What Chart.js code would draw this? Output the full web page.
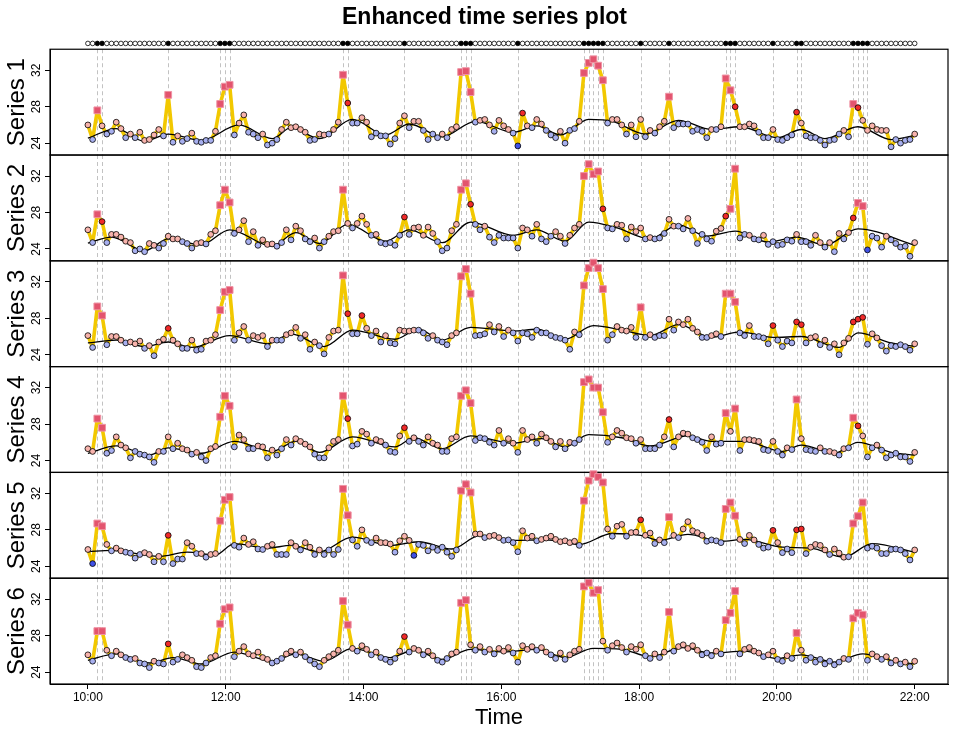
<!DOCTYPE html>
<html>
<head>
<meta charset="utf-8">
<title>Enhanced time series plot</title>
<script src="https://cdn.jsdelivr.net/npm/chart.js@4.4.1/dist/chart.umd.min.js"></script>
<style>
  html, body { margin: 0; padding: 0; background: #fff; }
  #wrap { width: 969px; height: 745px; }
</style>
</head>
<body>
<div id="wrap"><canvas id="chart" width="969" height="745"></canvas></div>
<script>
// TIME AXIS - 176 readings from 10:00 to 22:00 (minutes after midnight)
const START_MIN = 600;
const END_MIN = 1320;
const N_POINTS = 176;
const xTickValues = [600, 720, 840, 960, 1080, 1200, 1320];
const xTickLabels = ['10:00', '12:00', '14:00', '16:00', '18:00', '20:00', '22:00'];
const yTickValues = [24, 28, 32];
const seriesNames = ['Series 1', 'Series 2', 'Series 3', 'Series 4', 'Series 5', 'Series 6'];

// Reading indices flagged as events (dashed lines + filled dots in the top strip)
const eventIdx = [2, 3, 17, 28, 29, 30, 54, 55, 67, 79, 80, 81, 91, 105, 106, 107, 108, 109,
  117, 123, 135, 136, 137, 145, 150, 151, 162, 163, 164, 165];

// SERIES VALUES
const series1 = [
  26.0, 24.4, 27.6, 25.9, 25.0, 25.3, 26.3, 25.6, 24.6, 25.0,
  24.6, 25.2, 24.3, 24.4, 24.9, 25.5, 24.8, 29.3, 24.1, 24.8,
  24.2, 24.5, 25.1, 24.2, 24.1, 24.3, 24.3, 25.3, 28.3, 30.2,
  30.4, 24.9, 26.2, 27.1, 25.2, 25.0, 24.6, 25.0, 23.8, 24.0,
  24.4, 25.5, 26.3, 25.7, 25.8, 25.5, 25.2, 24.3, 24.4, 25.0,
  24.9, 25.0, 25.5, 26.3, 31.5, 28.4, 26.2, 26.2, 26.8, 26.3,
  24.7, 25.1, 24.8, 24.8, 23.9, 24.5, 26.2, 27.0, 25.7, 26.4,
  26.4, 25.4, 24.4, 25.0, 24.6, 25.0, 24.6, 25.5, 25.8, 31.8,
  31.9, 29.6, 26.3, 26.5, 26.6, 26.0, 25.3, 26.5, 25.9, 25.5,
  25.1, 23.7, 27.3, 25.9, 25.7, 26.6, 26.1, 25.4, 24.9, 24.6,
  25.3, 24.0, 25.4, 25.6, 26.4, 31.7, 32.8, 33.2, 32.5, 30.9,
  26.2, 26.6, 26.6, 26.0, 25.0, 26.0, 24.7, 26.6, 24.7, 25.4,
  25.1, 25.8, 26.4, 29.1, 25.7, 26.1, 26.1, 26.1, 25.3, 25.5,
  25.3, 24.6, 25.5, 25.5, 25.8, 31.1, 29.8, 28.0, 25.8, 25.8,
  26.1, 25.9, 25.2, 24.6, 24.6, 25.5, 24.4, 24.3, 24.6, 24.9,
  27.4, 26.2, 24.8, 24.6, 24.6, 24.3, 23.8, 24.3, 24.4, 25.0,
  25.4, 24.7, 28.3, 27.9, 26.5, 25.4, 25.9, 25.5, 25.4, 25.4,
  23.6, 24.4, 24.0, 24.3, 24.4, 25.0
];
const series2 = [
  26.1, 24.7, 27.8, 27.0, 24.7, 25.6, 25.6, 25.3, 24.85, 24.7,
  23.8, 24.0, 23.7, 24.6, 24.4, 24.1, 24.6, 25.4, 25.1, 25.1,
  24.8, 24.6, 24.1, 24.6, 24.7, 24.55, 25.6, 26.0, 28.8, 30.5,
  29.1, 25.7, 26.1, 27.1, 24.8, 25.9, 24.4, 25.0, 24.5, 24.55,
  24.3, 24.7, 26.1, 25.0, 26.5, 26.0, 25.1, 24.8, 25.2, 24.1,
  24.8, 25.4, 25.9, 26.0, 30.5, 26.8, 26.3, 26.8, 27.6, 26.7,
  25.5, 25.6, 24.7, 24.55, 24.7, 24.4, 25.5, 27.5, 25.6, 26.3,
  26.4, 25.5, 26.4, 25.7, 24.8, 23.8, 24.1, 26.0, 26.7, 30.5,
  31.2, 28.9, 26.7, 26.1, 26.5, 25.3, 24.7, 25.5, 25.2, 25.2,
  25.2, 24.1, 26.3, 26.1, 25.4, 26.7, 25.1, 24.8, 25.4, 25.9,
  25.4, 24.6, 25.5, 26.3, 26.7, 32.0, 33.3, 32.2, 32.5, 28.4,
  26.3, 26.2, 26.7, 26.6, 25.1, 26.4, 25.9, 26.3, 25.1, 25.25,
  25.1, 25.2, 25.7, 27.25, 26.5, 26.5, 26.2, 27.35, 26.0, 24.6,
  25.6, 25.1, 24.85, 25.95, 26.25, 27.6, 28.4, 32.8, 25.2, 25.6,
  25.5, 25.1, 25.0, 25.5, 24.5, 24.8, 24.4, 24.5, 25.0, 24.85,
  25.6, 24.8, 24.8, 24.4, 25.5, 24.7, 24.2, 24.7, 23.7, 25.7,
  25.1, 25.8, 27.4, 29.05, 28.7, 23.9, 25.4, 25.2, 24.2, 25.4,
  25.0, 24.6, 24.2, 24.3, 23.2, 24.7
];
const series3 = [
  26.1, 24.8, 29.3, 28.3, 25.1, 26.0, 26.0, 25.6, 25.3, 25.4,
  25.2, 25.5, 24.7, 25.0, 23.9, 25.4, 25.7, 26.9, 25.6, 25.2,
  24.7, 24.7, 25.6, 24.5, 24.6, 25.5, 25.6, 26.2, 28.9, 30.9,
  31.1, 25.6, 26.4, 27.1, 25.6, 26.1, 25.9, 26.1, 24.9, 25.6,
  25.6, 25.6, 26.2, 26.4, 27.0, 25.8, 26.2, 24.6, 25.4, 25.0,
  24.1, 25.9, 26.6, 26.7, 32.7, 28.5, 26.3, 26.3, 28.3, 26.9,
  26.1, 26.6, 25.4, 26.1, 25.3, 25.2, 26.7, 26.6, 26.6, 26.7,
  26.7, 26.4, 25.8, 26.1, 25.6, 25.4, 25.1, 26.1, 26.4, 32.6,
  33.4, 30.7, 26.1, 26.15, 26.3, 27.3, 26.5, 27.1, 26.0, 26.7,
  26.4, 25.5, 26.4, 26.3, 25.9, 26.7, 26.4, 26.4, 26.1, 25.9,
  25.8, 25.6, 24.6, 26.5, 26.2, 31.6, 33.5, 34.1, 33.5, 31.2,
  25.6, 26.2, 27.1, 26.7, 26.6, 27.0, 25.9, 29.2, 25.9, 26.2,
  25.9, 26.1, 26.1, 27.9, 26.7, 27.6, 27.3, 27.9, 26.9, 26.5,
  25.9, 25.9, 26.1, 26.3, 26.0, 30.7, 30.7, 29.8, 26.4, 26.1,
  27.2, 26.0, 26.0, 25.85, 25.2, 27.2, 25.6, 24.9, 25.5, 25.3,
  27.6, 27.3, 25.3, 25.85, 26.0, 25.1, 25.6, 24.8, 25.2, 24.0,
  25.3, 25.8, 27.6, 27.9, 28.1, 25.15, 26.3, 25.85, 25.0, 24.4,
  25.0, 24.9, 25.1, 24.9, 24.5, 25.2
];
const series4 = [
  25.3, 25.0, 28.6, 27.6, 24.8, 25.1, 26.6, 25.7, 25.4, 24.3,
  25.0, 24.7, 24.6, 24.4, 23.8, 25.0, 25.0, 26.6, 25.3, 25.9,
  25.3, 25.15, 24.7, 24.9, 24.4, 24.0, 25.3, 25.55, 28.8, 31.1,
  30.0, 25.5, 26.8, 26.3, 25.3, 25.3, 25.6, 25.5, 24.3, 25.15,
  24.6, 25.3, 26.3, 25.7, 26.4, 26.1, 25.8, 25.5, 24.7, 24.3,
  24.3, 25.4, 26.1, 26.3, 31.1, 28.6, 25.6, 25.8, 27.2, 26.9,
  25.9, 26.3, 26.1, 25.7, 25.0, 24.9, 26.7, 27.6, 26.1, 26.5,
  26.1, 25.7, 26.6, 25.9, 25.7, 25.0, 25.0, 26.4, 26.6, 31.1,
  31.7, 30.3, 26.2, 26.5, 26.4, 26.0, 25.7, 27.3, 25.9, 26.4,
  25.9, 24.9, 27.3, 26.3, 26.6, 25.9, 26.9, 26.5, 26.1, 25.5,
  26.1, 25.3, 26.0, 25.9, 26.3, 32.6, 32.9, 32.0, 32.0, 29.3,
  26.0, 26.6, 27.3, 27.0, 26.5, 26.4, 25.9, 26.3, 25.3, 25.3,
  25.3, 25.7, 26.6, 28.5, 25.5, 26.6, 27.0, 26.9, 26.5, 26.3,
  26.0, 25.1, 26.6, 25.8, 25.9, 29.2, 27.2, 29.7, 25.1, 26.3,
  26.3, 26.2, 26.1, 25.2, 25.1, 26.1, 25.0, 24.6, 25.4, 25.2,
  30.7, 26.4, 25.2, 25.1, 25.0, 25.4, 25.0, 25.0, 24.85, 24.6,
  25.3, 25.4, 28.7, 27.8, 26.7, 24.4, 25.4, 25.7, 25.15, 24.3,
  24.6, 24.8, 24.4, 24.4, 23.9, 24.9
];
const series5 = [
  25.85, 24.3, 28.7, 28.4, 26.4, 25.7, 26.0, 25.7, 25.55, 25.45,
  24.9, 25.3, 25.5, 25.3, 24.5, 25.1, 24.5, 27.4, 24.3, 24.8,
  24.8, 26.6, 26.2, 25.4, 25.4, 25.0, 25.3, 25.4, 29.0, 31.3,
  31.6, 26.3, 26.1, 27.1, 26.4, 26.7, 25.9, 25.85, 26.2, 26.4,
  25.3, 25.3, 25.3, 26.6, 26.2, 25.8, 26.6, 26.1, 25.3, 25.8,
  25.3, 25.8, 25.3, 25.85, 32.5, 29.6, 26.9, 26.2, 28.0, 26.85,
  26.6, 27.1, 26.6, 26.6, 26.45, 25.55, 26.8, 27.3, 26.85, 25.2,
  26.4, 26.3, 25.7, 26.1, 25.75, 26.1, 25.55, 25.1, 25.8, 32.3,
  33.0, 32.1, 27.55, 27.55, 27.15, 27.3, 27.4, 27.15, 26.85, 26.9,
  26.6, 25.6, 27.9, 27.1, 27.3, 26.8, 26.95, 27.1, 27.3, 26.95,
  26.7, 26.8, 26.6, 26.75, 26.3, 31.2, 33.4, 34.1, 33.8, 33.2,
  28.1, 27.3, 28.4, 28.6, 27.3, 27.7, 27.75, 29.1, 27.4, 27.65,
  26.5, 26.9, 26.6, 29.4, 27.4, 27.15, 28.1, 28.9, 27.9, 27.7,
  27.4, 26.75, 26.9, 26.8, 26.6, 30.3, 31.0, 29.55, 26.95, 26.5,
  27.4, 26.9, 26.4, 26.0, 26.1, 27.95, 26.6, 25.5, 25.9, 25.5,
  28.0, 28.1, 25.4, 26.1, 26.4, 26.3, 25.8, 25.3, 25.9, 25.45,
  25.0, 25.05, 28.7, 29.5, 31.0, 26.0, 26.2, 26.0, 25.4, 25.4,
  25.85, 25.9, 25.8, 25.4, 24.7, 25.8
];
const series6 = [
  25.9, 25.2, 28.5, 28.5, 26.4, 25.8, 26.3, 25.9, 25.6, 25.4,
  25.5, 25.0, 24.9, 24.5, 25.2, 25.0, 24.9, 27.1, 25.1, 25.4,
  25.9, 25.6, 25.3, 24.6, 24.5, 25.0, 25.6, 25.8, 29.3, 30.9,
  31.1, 25.7, 26.3, 26.8, 26.0, 25.8, 26.2, 25.6, 25.4, 25.0,
  25.2, 25.5, 26.0, 26.3, 25.9, 26.2, 25.7, 25.3, 24.9, 24.6,
  25.3, 25.7, 26.0, 26.4, 31.8, 29.2, 26.6, 26.3, 26.9, 26.5,
  25.9, 26.2, 25.6, 25.4, 25.1, 25.5, 26.3, 27.9, 26.2, 26.6,
  26.4, 25.9, 26.3, 25.8, 25.3, 25.1, 25.5, 26.0, 26.2, 31.6,
  31.9, 27.0, 26.4, 26.8, 26.2, 26.5, 26.0, 26.6, 26.3, 26.7,
  26.1, 25.1, 26.9, 26.5, 26.8, 26.4, 26.7, 26.2, 25.9, 25.5,
  26.1, 25.4, 25.9, 26.3, 26.5, 33.4, 33.8, 32.7, 33.0, 27.4,
  26.4, 26.9, 27.2, 26.7, 26.2, 26.8, 26.5, 27.0, 25.8, 25.5,
  26.0, 25.6, 26.2, 30.6, 26.3, 26.8, 27.0, 26.6, 26.9, 26.4,
  25.9, 26.1, 25.8, 26.3, 26.0, 29.7, 30.5, 32.9, 26.0, 26.5,
  26.7, 26.3, 26.1, 25.7, 25.9, 26.3, 25.4, 25.2, 25.8, 25.5,
  28.3, 26.4, 25.3, 25.6, 25.1, 25.4, 24.9, 25.2, 24.8, 25.1,
  25.5, 25.4, 29.9, 30.5, 30.3, 25.3, 26.0, 25.7, 25.4, 25.7,
  25.0, 25.3, 24.9, 25.1, 24.6, 25.2
];

// SMOOTH TREND - [reading index, value] knots of the black curve
const trend1 = [[0, 24.55], [6, 25.6], [12, 24.2], [17, 25.0], [24, 24.3], [32, 26.0], [39, 24.5], [43, 25.7],
  [49, 24.5], [56, 26.6], [63, 24.9], [68, 26.1], [75, 24.7], [82, 26.4], [90, 25.2], [95, 25.9], [100, 24.9],
  [106, 26.6], [111, 26.4], [118, 25.0], [125, 26.5], [132, 25.5], [138, 25.8], [146, 24.6], [151, 25.5],
  [156, 24.5], [163, 25.8], [170, 24.4], [175, 24.85]];
const trend2 = [[0, 24.65], [5, 25.3], [12, 23.8], [17, 25.1], [24, 24.45], [30, 26.1], [39, 24.3], [44, 25.8],
  [49, 24.6], [55, 26.7], [63, 24.85], [68, 26.1], [75, 24.7], [81, 26.95], [90, 25.5], [95, 26.1], [101, 24.85],
  [106, 26.95], [112, 26.3], [119, 25.1], [125, 26.65], [131, 25.4], [137, 25.95], [144, 24.75], [150, 25.3],
  [156, 24.4], [163, 26.2], [175, 24.4]];
const trend3 = [[0, 25.3], [6, 25.6], [12, 24.9], [17, 25.4], [22, 24.8], [30, 26.1], [38, 25.2], [43, 26.3],
  [50, 24.9], [56, 26.7], [65, 25.7], [70, 26.8], [75, 25.6], [81, 27.0], [90, 26.6], [95, 26.8], [101, 25.7],
  [107, 27.2], [113, 26.7], [119, 26.1], [125, 27.3], [132, 25.9], [138, 26.5], [145, 25.9], [151, 26.0],
  [159, 24.8], [163, 26.4], [170, 25.3], [175, 24.9]];
const trend4 = [[0, 24.8], [6, 25.6], [13, 24.6], [17, 25.4], [24, 24.8], [31, 26.1], [39, 25.0], [44, 26.1],
  [49, 24.9], [56, 26.6], [65, 25.5], [69, 26.5], [75, 25.3], [81, 26.7], [90, 25.9], [96, 26.4], [101, 25.5],
  [106, 26.85], [113, 26.5], [119, 25.6], [127, 26.7], [132, 26.1], [139, 26.1], [147, 25.0], [151, 25.7],
  [158, 24.8], [163, 26.0], [170, 24.9], [175, 24.6]];
const trend5 = [[0, 25.6], [5, 25.75], [15, 25.1], [21, 25.55], [27, 25.25], [31, 26.5], [38, 26.0], [43, 26.3],
  [49, 25.6], [56, 27.2], [64, 26.3], [70, 26.7], [77, 25.9], [83, 27.4], [90, 26.85], [97, 26.9], [104, 26.4],
  [111, 27.6], [117, 27.4], [121, 26.85], [127, 27.5], [134, 26.75], [139, 26.95], [147, 26.1], [153, 26.0],
  [160, 25.0], [166, 26.5], [175, 25.55]];
const trend6 = [[0, 25.3], [6, 26.0], [13, 25.0], [18, 25.6], [24, 24.9], [31, 26.2], [39, 25.2], [44, 26.0],
  [50, 25.2], [56, 26.6], [64, 25.6], [69, 26.4], [75, 25.4], [81, 26.5], [88, 26.2], [95, 26.5], [101, 25.6],
  [107, 26.6], [113, 26.5], [119, 25.7], [126, 26.7], [132, 26.1], [139, 26.3], [146, 25.5], [151, 25.9],
  [158, 25.1], [164, 26.0], [170, 25.3], [175, 24.9]];

// MARKER CLASSES - indices drawn as squares (strong peaks), red dots, dark blue dots
const squares1 = [2, 17, 28, 29, 30, 54, 79, 80, 81, 105, 106, 107, 108, 109, 123, 135, 136, 162];
const squares2 = [2, 28, 29, 30, 54, 79, 80, 105, 106, 107, 108, 136, 137, 163, 164];
const squares3 = [2, 3, 28, 29, 30, 54, 79, 80, 81, 105, 106, 107, 108, 109, 117, 135, 136, 137];
const squares4 = [2, 3, 28, 29, 30, 54, 79, 80, 81, 105, 106, 107, 108, 109, 135, 137, 150, 162];
const squares5 = [2, 3, 28, 29, 30, 54, 55, 79, 80, 81, 105, 106, 107, 108, 109, 123, 135, 136, 137, 162, 163, 164];
const squares6 = [2, 3, 28, 29, 30, 54, 55, 79, 80, 105, 106, 107, 108, 123, 135, 136, 137, 150, 162, 163, 164];
const reds1 = [55, 92, 137, 150, 163];
const reds2 = [3, 67, 81, 109, 135, 162];
const reds3 = [17, 55, 58, 145, 150, 151, 162, 163, 164];
const reds4 = [55, 67, 123, 163];
const reds5 = [17, 117, 145, 150, 151];
const reds6 = [17, 67];
const lows1 = [91];
const lows2 = [165];
const lows3 = [];
const lows4 = [];
const lows5 = [1, 69];
const lows6 = [];

const allSeries = [series1, series2, series3, series4, series5, series6];
const allTrends = [trend1, trend2, trend3, trend4, trend5, trend6];
const allSquares = [squares1, squares2, squares3, squares4, squares5, squares6];
const allReds = [reds1, reds2, reds3, reds4, reds5, reds6];
const allLows = [lows1, lows2, lows3, lows4, lows5, lows6];

// Colours
const COL = {
  yellow: '#F2C800',
  pink: '#F8B3AC',
  blue: '#A7AFEE',
  red: '#F02A2A',
  low: '#3F50E6',
  square: '#E3546E',
  squareEdge: '#EF93A4',
  dash: '#C2C2C2'
};

Chart.defaults.font.family = "'Liberation Sans', Arial, sans-serif";
Chart.defaults.color = '#000';

// Time (minutes) of the i-th reading
function timeAt(i) {
  return START_MIN + i * (END_MIN - START_MIN) / (N_POINTS - 1);
}

// Trend value at reading i, only used to pick pink (above) or blue (below)
function trendAt(knots, i) {
  for (let k = 0; k < knots.length - 1; k++) {
    const [i0, v0] = knots[k];
    const [i1, v1] = knots[k + 1];
    if (i >= i0 && i <= i1) return v0 + (v1 - v0) * (i - i0) / (i1 - i0);
  }
  return knots[knots.length - 1][1];
}

// Marker look for every reading of one series
function markerLooks(s) {
  const values = allSeries[s];
  return values.map((v, i) => {
    if (allSquares[s].includes(i)) return { style: 'rect', r: 4.8, fill: COL.square, edge: COL.squareEdge, w: 1 };
    let fill = v >= trendAt(allTrends[s], i) ? COL.pink : COL.blue;
    if (allReds[s].includes(i)) fill = COL.red;
    if (allLows[s].includes(i)) fill = COL.low;
    return { style: 'circle', r: 2.9, fill: fill, edge: '#000', w: 0.8 };
  });
}

const panelKeys = seriesNames.map((n, s) => 'y' + (s + 1));

// DATASETS
const datasets = [];
allSeries.forEach((values, s) => {
  const axis = panelKeys[s];
  const pts = values.map((v, i) => ({ x: timeAt(i), y: v }));
  const looks = markerLooks(s);

  // thick yellow connecting line
  datasets.push({
    type: 'line', yAxisID: axis, order: 2, data: pts,
    borderColor: COL.yellow, borderWidth: 3.6, pointRadius: 0, tension: 0,
    borderJoinStyle: 'round', borderCapStyle: 'round'
  });
  // black smooth trend
  datasets.push({
    type: 'line', yAxisID: axis, order: 1,
    data: allTrends[s].map(([i, v]) => ({ x: timeAt(i), y: v })),
    borderColor: '#000', borderWidth: 1.3, pointRadius: 0, cubicInterpolationMode: 'monotone'
  });
  // markers
  datasets.push({
    type: 'scatter', yAxisID: axis, order: 0, data: pts, clip: false,
    pointStyle: looks.map(l => l.style),
    pointRadius: looks.map(l => l.r),
    pointBackgroundColor: looks.map(l => l.fill),
    pointBorderColor: looks.map(l => l.edge),
    pointBorderWidth: looks.map(l => l.w)
  });
});

// top strip: one dot per reading, filled when it is an event
datasets.push({
  type: 'scatter', yAxisID: 'strip', order: 0, clip: false,
  data: allSeries[0].map((v, i) => ({ x: timeAt(i), y: 0 })),
  pointRadius: 2.3,
  pointBorderWidth: 0.8,
  pointBorderColor: '#000',
  pointBackgroundColor: allSeries[0].map((v, i) => eventIdx.includes(i) ? '#000' : '#fff')
});

// SCALES
const scales = {
  x: {
    type: 'linear', position: 'bottom', min: 567, max: 1349,
    afterBuildTicks: (scale) => { scale.ticks = xTickValues.map(v => ({ value: v })); },
    afterFit: (scale) => { scale.height = 61; },
    ticks: {
      autoSkip: false, maxRotation: 0, padding: 1,
      font: { size: 12 }, color: '#000',
      callback: (value, index) => xTickLabels[index]
    },
    grid: { drawOnChartArea: false, drawTicks: true, tickLength: 5, color: '#000' },
    border: { display: true, color: '#000', width: 1 },
    title: { display: true, text: 'Time', font: { size: 22 }, color: '#000', padding: { top: 0, bottom: 14 } }
  }
};
// panels are listed bottom-up so that Series 1 ends at the top of the stack
for (let s = 5; s >= 0; s--) {
  scales[panelKeys[s]] = {
    type: 'linear', position: 'left', stack: 'panels', stackWeight: 1,
    min: 22.7, max: 34.3,
    afterBuildTicks: (scale) => { scale.ticks = yTickValues.map(v => ({ value: v })); },
    afterFit: (scale) => { scale.width = 50; },
    ticks: { minRotation: 90, maxRotation: 90, crossAlign: 'center', padding: 2, font: { size: 12 }, color: '#000' },
    grid: { drawOnChartArea: false, drawTicks: true, tickLength: 5, color: '#000' },
    border: { display: true, color: '#000', width: 1 },
    title: { display: true, text: seriesNames[s], font: { size: 24 }, color: '#000', padding: { top: 3, bottom: 0 } }
  };
}
scales.strip = { type: 'linear', display: false, stack: 'panels', stackWeight: 0.11, min: -1, max: 1 };
// empty right margin, so the title stays centred on the whole page
scales.gap = {
  type: 'linear', position: 'right', min: 0, max: 1,
  afterFit: (scale) => { scale.width = 21; },
  ticks: { display: false }, grid: { display: false }, border: { display: false }
};

// PLUGIN - white page, dashed event lines and a box round every panel
const panelDecor = {
  id: 'panelDecor',
  beforeDraw(chart) {
    const ctx = chart.ctx;
    ctx.save();
    ctx.fillStyle = '#fff';
    ctx.fillRect(0, 0, chart.width, chart.height);
    ctx.restore();
  },
  beforeDatasetsDraw(chart) {
    const ctx = chart.ctx;
    const xs = chart.scales.x;
    const area = chart.chartArea;
    ctx.save();
    ctx.strokeStyle = COL.dash;
    ctx.lineWidth = 1;
    ctx.setLineDash([4, 3]);
    panelKeys.forEach(k => {
      const ys = chart.scales[k];
      eventIdx.forEach(i => {
        const px = Math.round(xs.getPixelForValue(timeAt(i))) + 0.5;
        ctx.beginPath();
        ctx.moveTo(px, ys.top);
        ctx.lineTo(px, ys.bottom);
        ctx.stroke();
      });
    });
    ctx.setLineDash([]);
    ctx.strokeStyle = '#000';
    ctx.lineWidth = 1.2;
    panelKeys.forEach(k => {
      const ys = chart.scales[k];
      ctx.strokeRect(area.left, ys.top, area.right - area.left, ys.bottom - ys.top);
    });
    ctx.restore();
  }
};

new Chart(document.getElementById('chart'), {
  type: 'line',
  data: { datasets: datasets },
  options: {
    responsive: false,
    animation: false,
    events: [],
    layout: { padding: { left: 0, right: 0, top: 0, bottom: 0 } },
    plugins: {
      legend: { display: false },
      tooltip: { enabled: false },
      title: {
        display: true, text: 'Enhanced time series plot', color: '#000',
        font: { size: 23, weight: 'bold' }, padding: { top: 4, bottom: 6 }
      }
    },
    scales: scales
  },
  plugins: [panelDecor]
});
</script>
</body>
</html>
